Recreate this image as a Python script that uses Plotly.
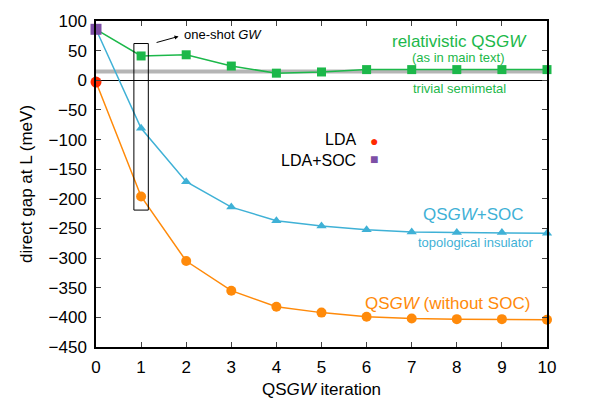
import plotly.graph_objects as go

iterations = [0, 1, 2, 3, 4, 5, 6, 7, 8, 9, 10]
rel_qsgw = [86, 41, 43, 24, 12, 14, 18, 18, 18, 18, 18]
qsgw_soc = [86, -81, -171, -214, -237, -246, -252, -256, -257, -257, -258]
qsgw_nosoc = [-3, -196, -305, -355, -382, -392, -399, -402, -403, -403, -404]
lda = -3
lda_soc = 86
expt = 15

GREEN = "#1cb84a"
BLUE = "#3fb1d6"
ORANGE = "#ff8a0a"
RED = "#ff2a00"
PURPLE = "#7d4fa6"
GRAY = "#b5b5b5"
FONT = "Liberation Sans"

fig = go.Figure()

# experiment line
fig.add_trace(go.Scatter(x=[iterations[0], iterations[-1]], y=[expt, expt], mode="lines",
                         line=dict(color=GRAY, width=4), showlegend=False, hoverinfo="skip"))

def series(y, color, symbol, size):
    fig.add_trace(go.Scatter(x=iterations, y=y, mode="lines",
                             line=dict(color=color, width=1.5), showlegend=False, cliponaxis=False))
    fig.add_trace(go.Scatter(x=iterations[1:], y=y[1:], mode="markers",
                             marker=dict(color=color, symbol=symbol, size=size),
                             showlegend=False, cliponaxis=False))

series(rel_qsgw, GREEN, "square", 9)
series(qsgw_soc, BLUE, "triangle-up", 9)
series(qsgw_nosoc, ORANGE, "circle", 10)

fig.add_trace(go.Scatter(x=[iterations[0]], y=[lda], mode="markers",
                         marker=dict(color=RED, symbol="circle", size=11),
                         showlegend=False, cliponaxis=False))
fig.add_trace(go.Scatter(x=[iterations[0]], y=[lda_soc], mode="markers",
                         marker=dict(color=PURPLE, symbol="square", size=11),
                         showlegend=False, cliponaxis=False))

# one-shot box
fig.add_shape(type="rect", x0=0.84, x1=1.16, y0=-219, y1=62,
              line=dict(color="black", width=1), fillcolor="rgba(0,0,0,0)")

ann = []
def text(x, y, s, color, size, xanchor="center", align="center"):
    ann.append(dict(x=x, y=y, xref="x", yref="y", text=s, showarrow=False, align=align,
                    font=dict(family=FONT, size=size, color=color), xanchor=xanchor, yanchor="middle"))

text(8.07, 66, "relativistic QS<i>GW</i>", GREEN, 17)
text(8.03, 39, "(as in main text)", GREEN, 13)
text(8.05, -14, "trivial semimetal", GREEN, 13)
text(10.08, 16, "expt.", GRAY, 16, "left")
text(8.36, -227, "QS<i>GW</i>+SOC", BLUE, 17)
text(8.43, -274, "topological insulator", BLUE, 13)
text(7.80, -376, "QS<i>GW</i> (without SOC)", ORANGE, 17)
text(5.82, -118, "LDA<br>LDA+SOC", "black", 16, "right", "right")
text(6.16, -117, f"<span style='color:{RED}'>●</span><br><span style='color:{PURPLE}'>■</span>",
     "black", 14, "center", "center")
text(1.91, 78, "one-shot <i>GW</i>", "black", 13, "left")

ann.append(dict(x=1.83, y=74, ax=1.31, ay=63, xref="x", yref="y", axref="x", ayref="y",
                text="", showarrow=True, arrowhead=2, arrowsize=0.8, arrowwidth=1, arrowcolor="black"))

# x-axis title
ann.append(dict(x=0.5, y=-0.129, xref="paper", yref="paper", text="QS<i>GW</i> iteration",
                showarrow=False, xanchor="center", yanchor="middle",
                font=dict(family=FONT, size=17, color="black")))

fig.update_layout(
    width=597, height=398,
    margin=dict(l=96, r=50, t=21, b=51),
    plot_bgcolor="white", paper_bgcolor="white",
    font=dict(family=FONT, size=17, color="black"),
    annotations=ann,
    showlegend=False,
)

fig.update_xaxes(range=[0, 10], dtick=1, tick0=0, ticks="inside", ticklen=5, mirror="ticks",
                 showline=True, linecolor="black", linewidth=1.5, showgrid=False, zeroline=False,
                 ticklabelstandoff=4, automargin=False,
                 tickfont=dict(size=17))
fig.update_yaxes(range=[-450, 100], dtick=50, tick0=0, ticks="inside", ticklen=5, mirror="ticks",
                 showline=True, linecolor="black", linewidth=1.5, showgrid=False,
                 zeroline=True, zerolinecolor="black", zerolinewidth=1,
                 ticklabelstandoff=4, automargin=False,
                 tickfont=dict(size=17), title=dict(text="direct gap at L (meV)", font=dict(size=17), standoff=12))

fig.write_html("out.html")
